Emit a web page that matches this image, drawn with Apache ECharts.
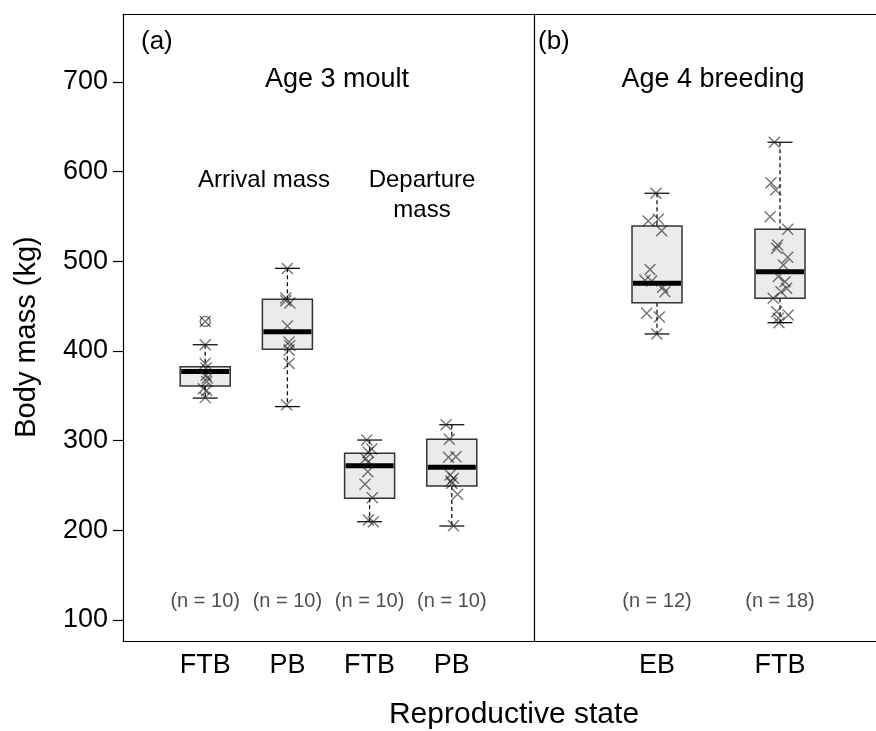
<!DOCTYPE html>
<html>
<head>
<meta charset="utf-8">
<script src="https://cdn.jsdelivr.net/npm/echarts@6.0.0/dist/echarts.min.js"></script>
<style>
  html, body { margin: 0; padding: 0; background: #fff; }
  #chart { width: 876px; height: 731px; }
</style>
</head>
<body>
<div id="chart"></div>
<script>
  // categories
  const moultCats = ['FTB', 'PB', 'FTB', 'PB'];
  const breedCats = ['EB', 'FTB'];
  const moultN = [10, 10, 10, 10];
  const breedN = [12, 18];
  const yTicks = [100, 200, 300, 400, 500, 600, 700];

  // box stats: [position, min, Q1, median, Q3, max]
  const moultBoxes = [
    [1, 347.5, 361, 377, 382.5, 407],
    [2, 338, 402, 421.5, 457.7, 492.2],
    [3, 209.6, 235.7, 272.1, 285.9, 300.7],
    [4, 204.8, 249.4, 270.3, 301.5, 317.8]
  ];
  const breedBoxes = [
    [1, 419, 453.9, 475.5, 539.4, 575.9],
    [2, 431.6, 458.8, 488.4, 535.7, 632.8]
  ];
  const moultOutliers = [[1, 433]];

  // individual seals: [jittered position, mass]
  const moultFtbArrival = [[1.0, 433], [1.0, 407], [1.0, 386], [1.01, 381], [1.01, 373], [1.026, 370], [1.018, 366], [0.977, 358], [1.018, 356], [1.0, 348]];
  const moultPbArrival = [[2.0, 492], [1.98, 459], [1.98, 456], [2.03, 453.5], [2.0, 428], [2.02, 410], [2.03, 406], [2.02, 401], [2.02, 386], [1.99, 340]];
  const moultFtbDeparture = [[2.965, 300.7], [3.026, 290.7], [2.985, 287], [2.954, 280], [2.98, 276], [2.978, 265.4], [2.944, 251.3], [3.033, 236.4], [2.985, 211.5], [3.045, 209.6]];
  const moultPbDeparture = [[3.93, 317.8], [3.97, 301.5], [4.05, 282], [3.96, 281.5], [3.98, 261.7], [4.02, 258], [3.99, 255], [4.0, 252.5], [4.07, 240.2], [4.02, 205.2]];
  const breedEb = [[0.992, 576], [1.011, 547], [0.929, 545], [1.038, 534], [0.943, 491], [0.902, 479], [0.957, 478], [1.046, 471], [1.065, 466], [0.916, 442], [1.019, 438], [0.998, 419]];
  const breedFtb = [[1.954, 632.8], [1.927, 587.7], [1.965, 579.6], [1.919, 549.8], [2.063, 535.7], [1.981, 518.2], [1.973, 514.5], [2.063, 504.5], [2.027, 495.9], [1.986, 483], [2.041, 477.3], [2.054, 470], [2.008, 466.1], [1.945, 458.8], [1.973, 443.8], [2.067, 440.1], [1.986, 436.5], [1.992, 431.6]];

  const FONT = '"Liberation Sans", Arial, sans-serif';
  const yMin = 76.58, yMax = 775.84;
  const nLabelY = 121;
  // panel (b) runs past the right edge of the picture: 342px shown of a 0..3 range 369px wide
  const breedXMax = 342 / 123;

  const chart = echarts.init(document.getElementById('chart'));

  function renderBox(params, api) {
    const x = api.value(0);
    const pMin = api.coord([x, api.value(1)]);
    const pQ1 = api.coord([x, api.value(2)]);
    const pMed = api.coord([x, api.value(3)]);
    const pQ3 = api.coord([x, api.value(4)]);
    const pMax = api.coord([x, api.value(5)]);
    const cx = pMed[0];
    const hw = 25, cw = 12.5;
    const dash = { stroke: '#111', lineWidth: 1.3, lineDash: [4, 3] };
    const solid = { stroke: '#111', lineWidth: 1.3 };
    return {
      type: 'group',
      children: [
        { type: 'line', shape: { x1: cx, y1: pMax[1], x2: cx, y2: pQ3[1] }, style: dash },
        { type: 'line', shape: { x1: cx, y1: pQ1[1], x2: cx, y2: pMin[1] }, style: dash },
        { type: 'line', shape: { x1: cx - cw, y1: pMax[1], x2: cx + cw, y2: pMax[1] }, style: solid },
        { type: 'line', shape: { x1: cx - cw, y1: pMin[1], x2: cx + cw, y2: pMin[1] }, style: solid },
        { type: 'rect', shape: { x: cx - hw, y: pQ3[1], width: hw * 2, height: pQ1[1] - pQ3[1] },
          style: { fill: '#ebebeb', stroke: '#333', lineWidth: 1.5 } },
        { type: 'line', shape: { x1: cx - hw + 1, y1: pMed[1], x2: cx + hw - 1, y2: pMed[1] },
          style: { stroke: '#000', lineWidth: 5 } }
      ]
    };
  }

  const crossSymbol = 'path://M0,0L10,10M10,0L0,10';
  const crossStyle = { color: 'rgba(0,0,0,0)', borderColor: 'rgba(25,25,25,0.75)', borderWidth: 1.4 };

  function pointSeries(data, gi) {
    return {
      type: 'scatter', xAxisIndex: gi, yAxisIndex: gi, z: 4,
      symbol: crossSymbol, symbolSize: 11, itemStyle: crossStyle,
      data: data, silent: true
    };
  }
  function nSeries(counts, gi) {
    return {
      type: 'scatter', xAxisIndex: gi, yAxisIndex: gi, symbolSize: 0, silent: true,
      data: counts.map((n, i) => [i + 1, nLabelY, n]),
      label: { show: true, position: 'inside', formatter: p => '(n = ' + p.data[2] + ')',
        color: '#222', fontSize: 20, fontFamily: FONT }
    };
  }

  const xCommon = {
    type: 'value', interval: 1, min: 0,
    axisTick: { show: false }, splitLine: { show: false }
  };
  const frameLine = { show: true, lineStyle: { color: '#000', width: 1.2 } };
  const tickLabel = { color: '#000', fontSize: 27, fontFamily: FONT, margin: 11 };

  const option = {
    animation: false,
    backgroundColor: '#fff',
    grid: [
      { left: 123, top: 14, width: 411, height: 627, show: false },
      { left: 534, top: 14, right: 0, height: 627, show: false }
    ],
    xAxis: [
      Object.assign({}, xCommon, { gridIndex: 0, max: 5, axisLine: frameLine,
        axisLabel: Object.assign({ formatter: v => moultCats[v - 1] || '' }, tickLabel) }),
      Object.assign({}, xCommon, { gridIndex: 1, max: breedXMax, axisLine: frameLine,
        axisLabel: Object.assign({ formatter: v => breedCats[v - 1] || '', showMaxLabel: false }, tickLabel) }),
      Object.assign({}, xCommon, { gridIndex: 1, max: breedXMax, position: 'top', axisLine: frameLine,
        axisLabel: { show: false } }),
      Object.assign({}, xCommon, { gridIndex: 0, max: 5, position: 'top', axisLine: frameLine,
        axisLabel: { show: false } })
    ],
    yAxis: [
      { gridIndex: 0, type: 'value', min: yMin, max: yMax,
        axisLine: frameLine,
        axisTick: { show: true, length: 10, customValues: yTicks, lineStyle: { color: '#000', width: 1.2 } },
        axisLabel: { customValues: yTicks, color: '#000', fontSize: 27, fontFamily: FONT, margin: 15 },
        splitLine: { show: false } },
      { gridIndex: 1, type: 'value', min: yMin, max: yMax, axisLine: frameLine,
        axisTick: { show: false }, axisLabel: { show: false }, splitLine: { show: false } }
    ],
    series: [
      { type: 'custom', xAxisIndex: 0, yAxisIndex: 0, renderItem: renderBox, data: moultBoxes,
        encode: { x: 0, y: [1, 2, 3, 4, 5] }, silent: true, z: 2 },
      { type: 'custom', xAxisIndex: 1, yAxisIndex: 1, renderItem: renderBox, data: breedBoxes,
        encode: { x: 0, y: [1, 2, 3, 4, 5] }, silent: true, z: 2 },
      { type: 'scatter', xAxisIndex: 0, yAxisIndex: 0, z: 3, symbol: 'circle', symbolSize: 10,
        itemStyle: { color: 'rgba(0,0,0,0)', borderColor: '#444', borderWidth: 1.3 }, data: moultOutliers, silent: true },
      pointSeries(moultFtbArrival, 0),
      pointSeries(moultPbArrival, 0),
      pointSeries(moultFtbDeparture, 0),
      pointSeries(moultPbDeparture, 0),
      pointSeries(breedEb, 1),
      pointSeries(breedFtb, 1),
      nSeries(moultN, 0),
      nSeries(breedN, 1)
    ],
    graphic: [
      { type: 'text', x: 141, y: 42, style: { text: '(a)', font: '26px ' + FONT, fill: '#000', textVerticalAlign: 'middle' } },
      { type: 'text', x: 538, y: 42, style: { text: '(b)', font: '26px ' + FONT, fill: '#000', textVerticalAlign: 'middle' } },
      { type: 'text', x: 337, y: 80, style: { text: 'Age 3 moult', font: '27px ' + FONT, fill: '#000', textAlign: 'center', textVerticalAlign: 'middle' } },
      { type: 'text', x: 713, y: 80, style: { text: 'Age 4 breeding', font: '27px ' + FONT, fill: '#000', textAlign: 'center', textVerticalAlign: 'middle' } },
      { type: 'text', x: 264, y: 180, style: { text: 'Arrival mass', font: '24px ' + FONT, fill: '#000', textAlign: 'center', textVerticalAlign: 'middle' } },
      { type: 'text', x: 422, y: 180, style: { text: 'Departure', font: '24px ' + FONT, fill: '#000', textAlign: 'center', textVerticalAlign: 'middle' } },
      { type: 'text', x: 422, y: 210, style: { text: 'mass', font: '24px ' + FONT, fill: '#000', textAlign: 'center', textVerticalAlign: 'middle' } },
      { type: 'text', x: 514, y: 715, style: { text: 'Reproductive state', font: '30px ' + FONT, fill: '#000', textAlign: 'center', textVerticalAlign: 'middle' } },
      { type: 'text', x: 27, y: 337, rotation: Math.PI / 2, style: { text: 'Body mass (kg)', font: '29px ' + FONT, fill: '#000', textAlign: 'center', textVerticalAlign: 'middle' } }
    ]
  };

  chart.setOption(option);
</script>
</body>
</html>
